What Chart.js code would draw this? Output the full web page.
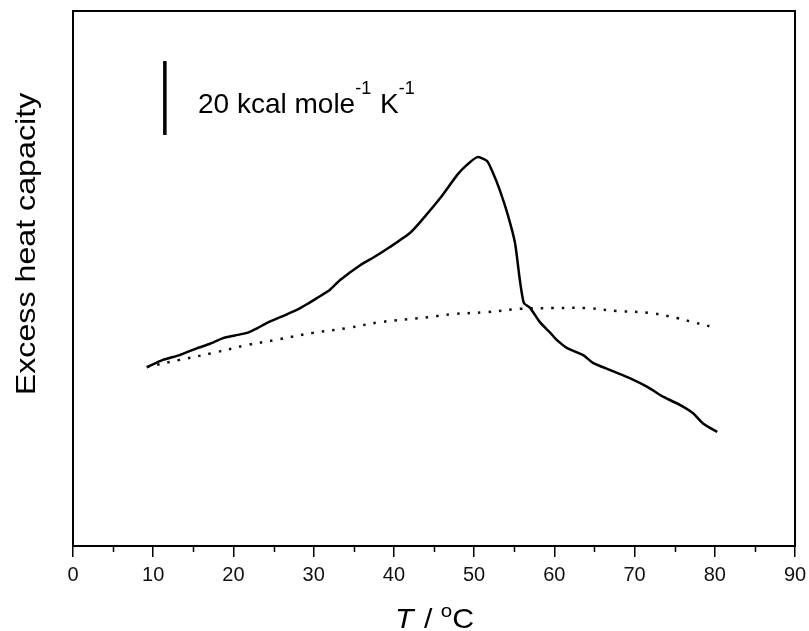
<!DOCTYPE html>
<html>
<head>
<meta charset="utf-8">
<script src="https://cdn.jsdelivr.net/npm/chart.js@4/dist/chart.umd.min.js"></script>
<style>
html,body{margin:0;padding:0;background:#fff;}
#wrap{width:809px;height:631px;position:relative;}
</style>
</head>
<body>
<div id="wrap"><canvas id="c" width="809" height="631"></canvas></div>
<script>
// Temperature (°C) and excess heat capacity (kcal mol^-1 K^-1, arbitrary offset)
const solidT  = [9.2, 11.2, 13.3, 15.5, 17.0, 18.7, 20.2, 21.7, 23.0, 24.2, 26.0, 27.9, 29.2, 30.4, 32.0, 33.3, 35.8, 37.7, 39.5, 42.0, 43.3, 45.8, 47.9, 49.1, 50.4, 51.6, 52.2, 53.2, 54.2, 55.1, 55.7, 56.2, 57.0, 58.2, 59.5, 60.3, 61.6, 63.6, 64.8, 66.9, 69.4, 71.6, 73.6, 75.7, 77.3, 78.5, 80.3];
const solidCp = [48.3, 50.3, 51.6, 53.5, 54.6, 56.2, 56.9, 57.6, 58.9, 60.3, 62.0, 63.8, 65.4, 67.0, 69.2, 71.9, 75.9, 78.3, 80.8, 84.6, 87.6, 94.1, 100.3, 103.0, 105.1, 104.1, 101.6, 96.2, 89.5, 81.9, 71.9, 65.7, 64.3, 60.5, 57.6, 55.7, 53.5, 51.6, 49.5, 47.6, 45.4, 43.0, 40.3, 38.1, 35.9, 33.2, 30.8];
const dottedT  = [9.2, 13.3, 17.5, 21.7, 25.8, 29.9, 34.2, 38.3, 44.5, 47.4, 51.6, 55.7, 59.8, 64.1, 67.8, 71.9, 75.3, 77.3, 79.7];
const dottedCp = [48.4, 50.3, 52.2, 54.3, 55.9, 57.6, 58.9, 60.5, 61.9, 62.7, 63.2, 64.1, 64.3, 64.3, 63.5, 63.0, 61.6, 60.5, 59.2];
const scaleBarT  = [11.45, 11.45];
const scaleBarCp = [111.1, 131.1];
const xTicks = [0, 10, 20, 30, 40, 50, 60, 70, 80, 90];
const xMinorTicks = [5, 15, 25, 35, 45, 55, 65, 75, 85];
const xMin = 0, xMax = 90, yMin = 0, yMax = 144.6;
const scaleBarLabel = ['20 kcal mole', '-1', ' K', '-1'];
const yTitle = 'Excess heat capacity';

const toXY = (xs, ys) => xs.map((x, i) => ({x: x, y: ys[i]}));
const FONT = '"Liberation Sans", Arial, Helvetica, sans-serif';

const decor = {
  id: 'decor',
  afterDraw(chart) {
    const ctx = chart.ctx;
    const a = chart.chartArea;
    const xs = chart.scales.x, ys = chart.scales.y;
    ctx.save();
    // frame box
    ctx.strokeStyle = '#000';
    ctx.lineWidth = 2;
    ctx.strokeRect(a.left, a.top, a.right - a.left, a.bottom - a.top);
    // minor ticks
    ctx.lineWidth = 1.5;
    xMinorTicks.forEach(v => {
      const px = Math.round(xs.getPixelForValue(v)) + 0.5;
      ctx.beginPath(); ctx.moveTo(px, a.bottom); ctx.lineTo(px, a.bottom + 6); ctx.stroke();
    });
    ctx.fillStyle = '#000';
    // scale-bar label
    let lx = xs.getPixelForValue(15.58), ly = ys.getPixelForValue(117.0);
    ctx.save();
    ctx.translate(lx, ly);
    ctx.textBaseline = 'alphabetic';
    ctx.textAlign = 'left';
    let cx = 0;
    scaleBarLabel.forEach((s, i) => {
      const sup = i % 2 === 1;
      ctx.font = (sup ? '18px ' : '28px ') + FONT;
      ctx.fillText(s, cx, sup ? -19 : 0);
      cx += ctx.measureText(s).width + (sup ? 1 : 0);
    });
    ctx.restore();
    // y title
    ctx.save();
    ctx.translate(35, 244);
    ctx.rotate(-Math.PI / 2);
    ctx.scale(1.15, 1);
    ctx.font = '28px ' + FONT;
    ctx.textAlign = 'center';
    ctx.textBaseline = 'alphabetic';
    ctx.fillText(yTitle, 0, 0);
    ctx.restore();
    // x title: T / °C
    ctx.save();
    ctx.translate(395, 628);
    ctx.scale(1.08, 1);
    ctx.textBaseline = 'alphabetic';
    ctx.textAlign = 'left';
    let tx = 0;
    ctx.font = 'italic 28px ' + FONT;
    ctx.fillText('T', tx, 0); tx += ctx.measureText('T').width + 2;
    ctx.font = '28px ' + FONT;
    ctx.fillText(' / ', tx, 0); tx += ctx.measureText(' / ').width;
    ctx.font = '19px ' + FONT;
    ctx.fillText('o', tx, -11); tx += ctx.measureText('o').width;
    ctx.font = '28px ' + FONT;
    ctx.fillText('C', tx, 0);
    ctx.restore();
    ctx.restore();
  }
};

new Chart(document.getElementById('c'), {
  type: 'line',
  data: {
    datasets: [
      { label: 'dotted', data: toXY(dottedT, dottedCp), borderColor: '#111', borderWidth: 2.5, borderDash: [2.5, 8], pointRadius: 0, tension: 0.4, fill: false },
      { label: 'solid', data: toXY(solidT, solidCp), borderColor: '#000', borderWidth: 2.5, pointRadius: 0, tension: 0.2, fill: false },
      { label: 'scale bar', data: toXY(scaleBarT, scaleBarCp), borderColor: '#000', borderWidth: 3.5, pointRadius: 0, fill: false }
    ]
  },
  options: {
    responsive: false,
    animation: false,
    devicePixelRatio: 1,
    layout: { padding: { top: 11, right: 14, left: 0, bottom: 0 } },
    plugins: { legend: { display: false }, tooltip: { enabled: false } },
    scales: {
      x: {
        type: 'linear', min: xMin, max: xMax,
        afterFit: s => { s.height = 85; s.paddingLeft = 0; s.paddingRight = 0; },
        afterBuildTicks: s => { s.ticks = xTicks.map(v => ({value: v})); },
        grid: { drawOnChartArea: false, drawTicks: true, tickLength: 11, color: '#000', lineWidth: 1.5 },
        border: { display: true, color: '#000', width: 2 },
        ticks: { color: '#111', font: { family: FONT, size: 20 }, padding: 6, maxRotation: 0 }
      },
      y: {
        type: 'linear', min: yMin, max: yMax,
        afterFit: s => { s.width = 73; },
        grid: { display: false, drawTicks: false },
        border: { display: true, color: '#000', width: 2 },
        ticks: { display: false }
      }
    }
  },
  plugins: [decor]
});
</script>
</body>
</html>
